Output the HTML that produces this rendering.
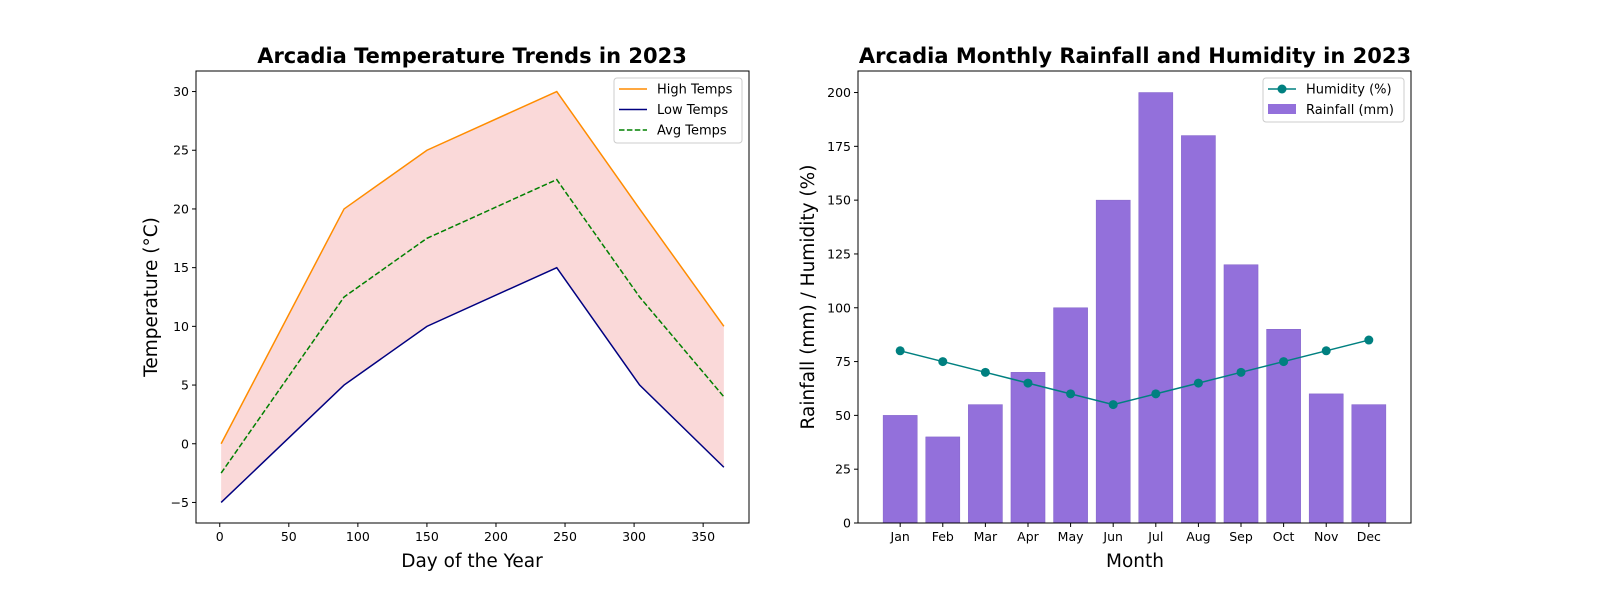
<!DOCTYPE html>
<html><head><meta charset="utf-8"><style>
body{margin:0;background:#fff}
svg text{font-family:"DejaVu Sans","Liberation Sans",sans-serif;fill:#000}
</style></head><body>
<svg id="c" width="1600" height="600" xmlns="http://www.w3.org/2000/svg"></svg>
<script>
const days=[1,90,150,244,304,365];
const highTemps=[0,20,25,30,20,10];
const lowTemps=[-5,5,10,15,5,-2];
const months=["Jan","Feb","Mar","Apr","May","Jun","Jul","Aug","Sep","Oct","Nov","Dec"];
const rainfall=[50,40,55,70,100,150,200,180,120,90,60,55];
const humidity=[80,75,70,65,60,55,60,65,70,75,80,85];
const xTicksL=[0,50,100,150,200,250,300,350];
const yTicksL=[-5,0,5,10,15,20,25,30];
const yTicksR=[0,25,50,75,100,125,150,175,200];

const svg=document.getElementById('c');
const NS="http://www.w3.org/2000/svg";
function el(tag,attrs,name,parent){const e=document.createElementNS(NS,tag);for(const k in attrs)e.setAttribute(k,attrs[k]);


(parent||svg).appendChild(e);return e;}
function txt(s,attrs,name){const t=el('text',attrs,name);t.textContent=s;return t;}
const fmt=t=>String(t).replace('-','\u2212');

const L={x0:196,x1:749,y0:71,y1:523};
const xmin=-17.2,xmax=383.2,ymin=-6.75,ymax=31.75;
const sx=d=>L.x0+(d-xmin)/(xmax-xmin)*(L.x1-L.x0);
const sy=v=>L.y1-(v-ymin)/(ymax-ymin)*(L.y1-L.y0);
const avg=highTemps.map((h,i)=>(h+lowTemps[i])/2);
let fp=days.map((d,i)=>sx(d)+','+sy(highTemps[i])).join(' ')+' '+days.slice().reverse().map((d,j)=>{const i=days.length-1-j;return sx(d)+','+sy(lowTemps[i]);}).join(' ');
el('polygon',{points:fp,fill:'#f08080','fill-opacity':0.3},'temp-range-fill');
const pts=a=>days.map((d,i)=>sx(d)+','+sy(a[i])).join(' ');
el('polyline',{points:pts(highTemps),fill:'none',stroke:'#ff8c00','stroke-width':1.5},'high-temps-line');
el('polyline',{points:pts(lowTemps),fill:'none',stroke:'#000080','stroke-width':1.5},'low-temps-line');
el('polyline',{points:pts(avg),fill:'none',stroke:'#008000','stroke-width':1.5,'stroke-dasharray':'5.5,2.4'},'avg-temps-line');
el('rect',{x:L.x0,y:L.y0,width:L.x1-L.x0,height:L.y1-L.y0,fill:'none',stroke:'#000','stroke-width':1},'left-axes-frame');
xTicksL.forEach(t=>{const x=sx(t);el('line',{x1:x,x2:x,y1:L.y1,y2:L.y1+4,stroke:'#000'},'x-tick');txt(fmt(t),{x:x,y:L.y1+18,'text-anchor':'middle','font-size':12.5},'x-tick-label');});
yTicksL.forEach(t=>{const y=sy(t);el('line',{x1:L.x0-4,x2:L.x0,y1:y,y2:y,stroke:'#000'},'y-tick');txt(fmt(t),{x:L.x0-7,y:y+4.5,'text-anchor':'end','font-size':12.5},'y-tick-label');});
txt('Arcadia Temperature Trends in 2023',{x:472,y:63,'text-anchor':'middle','font-size':21,'font-weight':'bold'},'left-chart-title');
txt('Day of the Year',{x:472,y:567,'text-anchor':'middle','font-size':18.5},'left-x-axis-title');
txt('Temperature (°C)',{x:157,y:297,'text-anchor':'middle','font-size':18.5,transform:'rotate(-90 157 297)'},'left-y-axis-title');
el('rect',{x:614,y:78,width:128,height:65,rx:3,fill:'#fff','fill-opacity':0.8,stroke:'#ccc'},'left-legend-box');
[['High Temps','#ff8c00',null],['Low Temps','#000080',null],['Avg Temps','#008000','5.5,2.4']].forEach((e,i)=>{const y=89+i*20.5;
const a={x1:619,x2:647,y1:y,y2:y,stroke:e[1],'stroke-width':1.5};if(e[2])a['stroke-dasharray']=e[2];el('line',a,'legend-entry-swatch');
txt(e[0],{x:657,y:y+4.5,'font-size':13},'legend-entry');});

const R={x0:858,x1:1411,y0:71,y1:523};
const bxmin=-0.99,bxmax=11.99,bymax=210;
const bx=i=>R.x0+(i-bxmin)/(bxmax-bxmin)*(R.x1-R.x0);
const by=v=>R.y1-v/bymax*(R.y1-R.y0);
const bw=0.8*(R.x1-R.x0)/(bxmax-bxmin);
rainfall.forEach((v,i)=>{el('rect',{x:bx(i)-bw/2,y:by(v),width:bw,height:by(0)-by(v),fill:'#9370db',stroke:'#8060c8','stroke-width':0.5},'bar-'+months[i].toLowerCase());});
el('polyline',{points:humidity.map((v,i)=>bx(i)+','+by(v)).join(' '),fill:'none',stroke:'#008080','stroke-width':1.5},'humidity-line');
humidity.forEach((v,i)=>el('circle',{cx:bx(i),cy:by(v),r:4.5,fill:'#008080'},'humidity-point'));
el('rect',{x:R.x0,y:R.y0,width:R.x1-R.x0,height:R.y1-R.y0,fill:'none',stroke:'#000'},'right-axes-frame');
months.forEach((m,i)=>{const x=bx(i);el('line',{x1:x,x2:x,y1:R.y1,y2:R.y1+4,stroke:'#000'},'x-tick');txt(m,{x:x,y:R.y1+18,'text-anchor':'middle','font-size':12.5},'month-label');});
yTicksR.forEach(t=>{const y=by(t);el('line',{x1:R.x0-4,x2:R.x0,y1:y,y2:y,stroke:'#000'},'y-tick');txt(t,{x:R.x0-7,y:y+4.5,'text-anchor':'end','font-size':12.5},'y-tick-label');});
txt('Arcadia Monthly Rainfall and Humidity in 2023',{x:1135,y:63,'text-anchor':'middle','font-size':21,'font-weight':'bold'},'right-chart-title');
txt('Month',{x:1135,y:567,'text-anchor':'middle','font-size':18.5},'right-x-axis-title');
txt('Rainfall (mm) / Humidity (%)',{x:814,y:297,'text-anchor':'middle','font-size':18.5,transform:'rotate(-90 814 297)'},'right-y-axis-title');
el('rect',{x:1263,y:78,width:141,height:44,rx:3,fill:'#fff','fill-opacity':0.8,stroke:'#ccc'},'right-legend-box');
el('line',{x1:1268,x2:1296,y1:89,y2:89,stroke:'#008080','stroke-width':1.5},'legend-humidity-swatch');
el('circle',{cx:1282,cy:89,r:4.5,fill:'#008080'},'legend-humidity-marker');
txt('Humidity (%)',{x:1306,y:93.5,'font-size':13},'legend-entry');
el('rect',{x:1268,y:104,width:28,height:10,fill:'#9370db'},'legend-rainfall-swatch');
txt('Rainfall (mm)',{x:1306,y:114,'font-size':13},'legend-entry');
</script>
</body></html>
